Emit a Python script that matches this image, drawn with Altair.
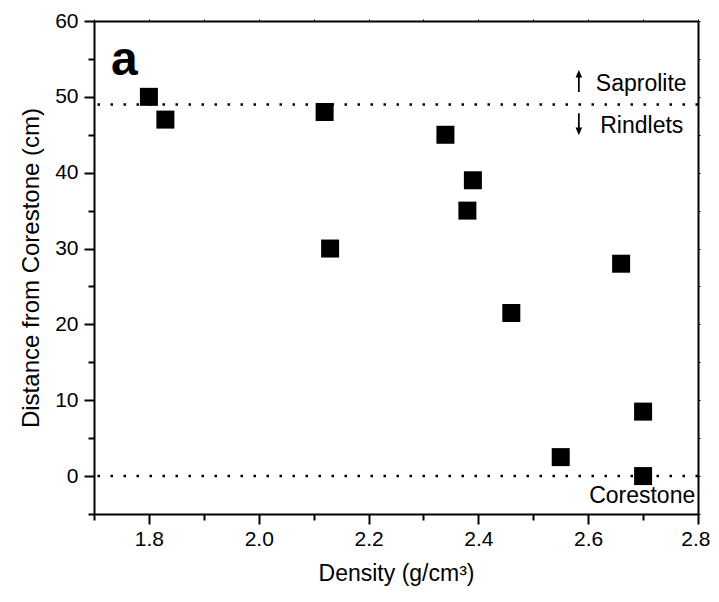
import altair as alt
import pandas as pd

density = [1.80, 1.83, 2.12, 2.13, 2.34, 2.39, 2.38, 2.46, 2.55, 2.66, 2.70, 2.70]
distance = [50, 47, 48, 30, 45, 39, 35, 21.5, 2.5, 28, 8.5, 0]

x_major = [1.8, 2.0, 2.2, 2.4, 2.6, 2.8]
x_minor = [1.7, 1.9, 2.1, 2.3, 2.5, 2.7]
y_major = [0, 10, 20, 30, 40, 50, 60]
y_minor = [-5, 5, 15, 25, 35, 45, 55]
y_all = [-5, 0, 5, 10, 15, 20, 25, 30, 35, 40, 45, 50, 55, 60]
x_all = [1.7, 1.8, 1.9, 2.0, 2.1, 2.2, 2.3, 2.4, 2.5, 2.6, 2.7, 2.8]

boundary_y = [49, 0]

text_labels = ["Saprolite", "Rindlets", "Corestone"]
text_x = [2.614, 2.622, 2.795]
text_y = [50.8, 45.2, -3.6]
text_align = ["left", "left", "right"]

panel_label = ["a"]
panel_x = [1.731]
panel_y = [52.9]

arrow_x = [2.583]
arrow_up_y = [52.1]
arrow_down_y = [46.4]

FONT = "Liberation Sans"

df = pd.DataFrame({"density": density, "distance": distance})
xs = alt.Scale(domain=[1.7, 2.8], nice=False, zero=False)
ys = alt.Scale(domain=[-5, 60], nice=False, zero=False)

common_axis = dict(labelFont=FONT, titleFont=FONT, labelColor="black",
                   titleColor="black", grid=False, tickColor="black",
                   domainColor="black")

points = alt.Chart(df).mark_square(size=324, color="black", opacity=1).encode(
    x=alt.X("density:Q", scale=xs,
            axis=alt.Axis(values=x_major, tickSize=10, tickWidth=2, domainWidth=2,
                          labelFontSize=21, titleFontSize=23, labelPadding=4,
                          titlePadding=13, labelFlush=True, labelFlushOffset=12,
                          format=".1f",
                          title="Density (g/cm³)", orient="bottom",
                          titleFontWeight="normal", **common_axis)),
    y=alt.Y("distance:Q", scale=ys,
            axis=alt.Axis(values=y_major, tickSize=10, tickWidth=2, domainWidth=2,
                          labelFontSize=21, titleFontSize=24, labelPadding=6,
                          titlePadding=11, labelFlush=False,
                          title="Distance from Corestone (cm)", orient="left",
                          titleFontWeight="normal", **common_axis)),
)

minor = alt.Chart(df).mark_point(opacity=0).encode(
    x=alt.X("density:Q", scale=xs,
            axis=alt.Axis(values=x_minor, tickSize=6, tickWidth=2, labels=False,
                          domain=False, title="", orient="bottom", **common_axis)),
    y=alt.Y("distance:Q", scale=ys,
            axis=alt.Axis(values=y_minor, tickSize=6, tickWidth=2, labels=False,
                          domain=False, title="", orient="left", **common_axis)),
)

edge = alt.Chart(df).mark_point(opacity=0).encode(
    x=alt.X("density:Q", scale=xs,
            axis=alt.Axis(values=x_all, tickSize=2, tickWidth=1, labels=False,
                          domain=True, domainWidth=2, title="", orient="top",
                          **common_axis)),
    y=alt.Y("distance:Q", scale=ys,
            axis=alt.Axis(values=y_all, tickSize=2, tickWidth=1, labels=False,
                          domain=True, domainWidth=2, title="", orient="right",
                          **common_axis)),
)

rules = alt.Chart(pd.DataFrame({"y": boundary_y})).mark_rule(
    color="black", strokeWidth=2.5, strokeDash=[2.5, 10.5]
).encode(y=alt.Y("y:Q", scale=ys, axis=None))

tdf = pd.DataFrame({"label": text_labels, "x": text_x, "y": text_y, "align": text_align})
texts_left = alt.Chart(tdf[tdf["align"] == "left"]).mark_text(
    font=FONT, fontSize=23, align="left", baseline="alphabetic", color="black"
).encode(x=alt.X("x:Q", scale=xs, axis=None), y=alt.Y("y:Q", scale=ys, axis=None),
         text="label:N")
texts_right = alt.Chart(tdf[tdf["align"] == "right"]).mark_text(
    font=FONT, fontSize=23, align="right", baseline="alphabetic", color="black"
).encode(x=alt.X("x:Q", scale=xs, axis=None), y=alt.Y("y:Q", scale=ys, axis=None),
         text="label:N")

panel = alt.Chart(pd.DataFrame({"t": panel_label, "x": panel_x, "y": panel_y})).mark_text(
    font=FONT, fontSize=48, fontWeight="bold", align="left", baseline="alphabetic",
    color="black"
).encode(x=alt.X("x:Q", scale=xs, axis=None), y=alt.Y("y:Q", scale=ys, axis=None),
         text="t:N")

up_path = "M0,-1L0.3,-0.3L0.08,-0.3L0.08,1L-0.08,1L-0.08,-0.3L-0.3,-0.3Z"
down_path = "M0,1L0.3,0.3L0.08,0.3L0.08,-1L-0.08,-1L-0.08,0.3L-0.3,0.3Z"
arrow_up = alt.Chart(pd.DataFrame({"x": arrow_x, "y": arrow_up_y})).mark_point(
    shape=up_path, size=484, filled=True, color="black", opacity=1, strokeWidth=0
).encode(x=alt.X("x:Q", scale=xs, axis=None), y=alt.Y("y:Q", scale=ys, axis=None))
arrow_down = alt.Chart(pd.DataFrame({"x": arrow_x, "y": arrow_down_y})).mark_point(
    shape=down_path, size=484, filled=True, color="black", opacity=1, strokeWidth=0
).encode(x=alt.X("x:Q", scale=xs, axis=None), y=alt.Y("y:Q", scale=ys, axis=None))

chart = alt.layer(
    points, minor, edge, rules, texts_left, texts_right, panel, arrow_up, arrow_down
).resolve_axis(x="independent", y="independent").properties(
    width=604, height=493,
    autosize=alt.AutoSizeParams(type="none"),
    padding={"left": 86, "top": 13, "right": 12, "bottom": 76},
    background="white",
).configure_view(stroke=None)

chart.save("out.html", embed_options={"renderer": "svg", "actions": False})
